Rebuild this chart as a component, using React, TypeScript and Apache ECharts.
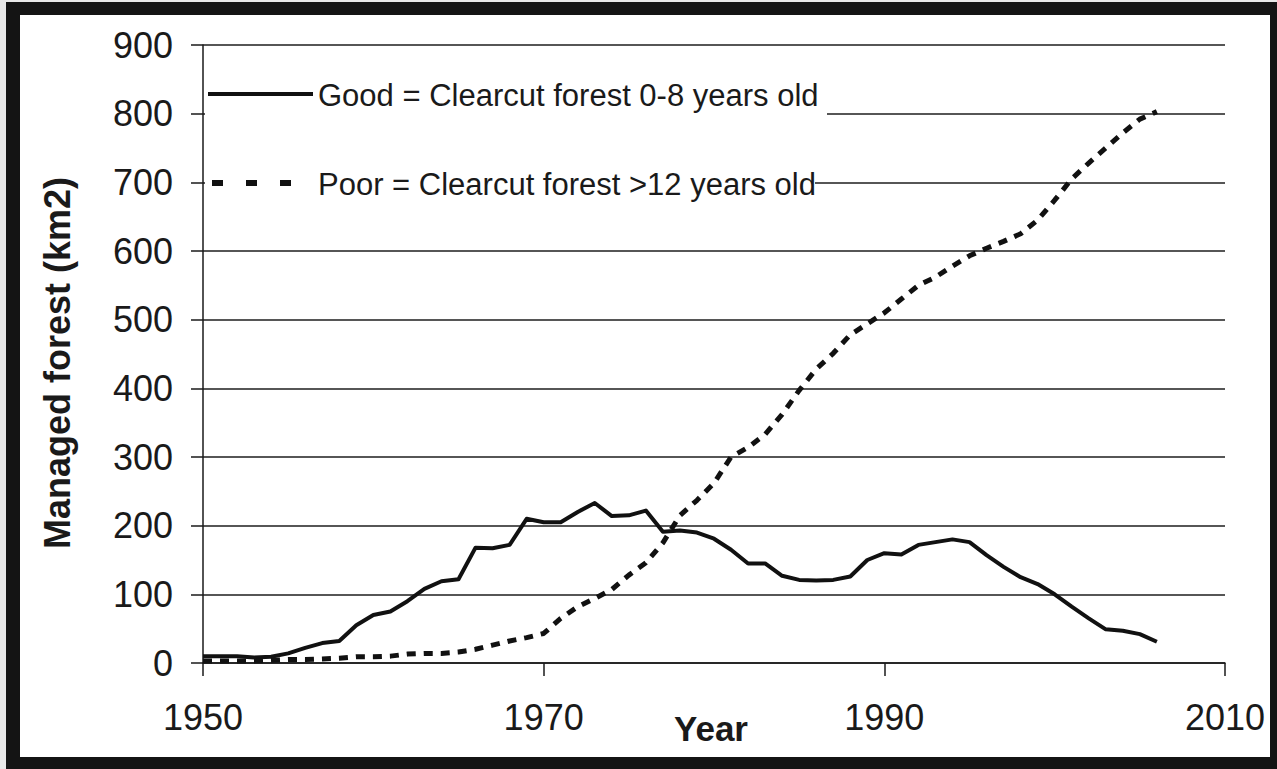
import React, { useEffect, useRef } from "react";
import * as echarts from "echarts";

const goodYears = [
  1950, 1951, 1952, 1953, 1954, 1955, 1956, 1957, 1958, 1959,
  1960, 1961, 1962, 1963, 1964, 1965, 1966, 1967, 1968, 1969,
  1970, 1971, 1972, 1973, 1974, 1975, 1976, 1977, 1978, 1979,
  1980, 1981, 1982, 1983, 1984, 1985, 1986, 1987, 1988, 1989,
  1990, 1991, 1992, 1993, 1994, 1995, 1996, 1997, 1998, 1999,
  2000, 2001, 2002, 2003, 2004, 2005, 2006,
];
const goodValues = [
  10, 10, 10, 8, 9, 14, 22, 29, 32, 55,
  70, 75, 90, 108, 119, 122, 168, 167, 172, 210,
  205, 205, 220, 233, 214, 215, 222, 191, 193, 190,
  181, 165, 145, 145, 127, 121, 120, 121, 126, 150,
  160, 158, 172, 176, 180, 176, 157, 140, 125, 115,
  100, 82, 65, 49, 47, 42, 31,
];
const poorYears = goodYears;
const poorValues = [
  3, 3, 3, 3, 4, 5, 5, 6, 7, 9,
  9, 10, 13, 14, 14, 16, 20, 26, 32, 37,
  43, 65, 82, 94, 107, 128, 146, 175, 215, 237,
  262, 300, 314, 333, 362, 397, 428, 451, 478, 494,
  510, 530, 550, 562, 578, 593, 604, 614, 625, 645,
  674, 705, 728, 750, 772, 792, 803,
];
const xTickLabels = ["1950", "1970", "1990", "2010"];
const baseYear = 1950;
const goodName = "Good = Clearcut forest 0-8 years old";
const poorName = "Poor = Clearcut forest >12 years old";
const xTitle = "Year";
const yTitle = "Managed forest (km2)";

const FONT = "'Liberation Sans', Arial, Helvetica, sans-serif";
const INK = "#1a1a1a";

export default function App() {
  const ref = useRef<HTMLDivElement>(null);

  useEffect(() => {
    if (!ref.current) return;
    const chart = echarts.init(ref.current, undefined, { renderer: "svg" });
    const option: any = {
      animation: false,
      backgroundColor: "transparent",
      grid: {
        left: 203,
        right: 52,
        top: 45,
        bottom: 106,
        containLabel: false,
        outerBoundsMode: "none",
      },
      xAxis: {
        type: "value",
        min: 0,
        max: 60,
        interval: 20,
        axisLine: { show: true, lineStyle: { color: INK, width: 1.5 } },
        axisTick: { show: true, length: 13, lineStyle: { color: INK, width: 1.5 } },
        axisLabel: {
          margin: 36,
          fontFamily: FONT,
          fontSize: 36,
          color: INK,
          formatter: (v: number) => {
            const label = String(v + baseYear);
            return xTickLabels.includes(label) ? label : "";
          },
        },
        splitLine: { show: false },
      },
      yAxis: {
        type: "value",
        min: 0,
        max: 900,
        interval: 100,
        axisLine: { show: true, lineStyle: { color: INK, width: 1.5 } },
        axisTick: { show: true, length: 12, lineStyle: { color: INK, width: 1.5 } },
        axisLabel: {
          margin: 30,
          fontFamily: FONT,
          fontSize: 36,
          color: INK,
        },
        splitLine: { show: true, lineStyle: { color: "#1e1e1e", width: 1.5 } },
      },
      series: [
        {
          name: goodName,
          type: "line",
          data: goodYears.map((y, i) => [y - baseYear, goodValues[i]]),
          symbol: "none",
          lineStyle: { color: "#111", width: 4, join: "round" },
          z: 3,
        },
        {
          name: poorName,
          type: "line",
          data: poorYears.map((y, i) => [y - baseYear, poorValues[i]]),
          symbol: "none",
          lineStyle: { color: "#111", width: 5, type: [9, 8], cap: "butt" },
          z: 3,
        },
      ],
      graphic: [
        {
          type: "rect",
          z: 50,
          shape: { x: 205, y: 70, width: 622, height: 70 },
          style: { fill: "#fff" },
          silent: true,
        },
        {
          type: "rect",
          z: 50,
          shape: { x: 205, y: 140, width: 610, height: 70 },
          style: { fill: "#fff" },
          silent: true,
        },
        {
          type: "line",
          z: 51,
          shape: { x1: 208, y1: 94, x2: 313, y2: 94 },
          style: { stroke: "#111", lineWidth: 4 },
        },
        {
          type: "line",
          z: 51,
          shape: { x1: 212, y1: 183, x2: 293, y2: 183 },
          style: { stroke: "#111", lineWidth: 6, lineDash: [11, 23] },
        },
        {
          type: "text",
          z: 51,
          x: 318,
          y: 95,
          style: {
            text: goodName,
            fontFamily: FONT,
            fontSize: 31,
            fill: INK,
            verticalAlign: "middle",
          },
        },
        {
          type: "text",
          z: 51,
          x: 318,
          y: 184,
          style: {
            text: poorName,
            fontFamily: FONT,
            fontSize: 31,
            fill: INK,
            verticalAlign: "middle",
          },
        },
        {
          type: "text",
          z: 51,
          x: 711,
          y: 728,
          style: {
            text: xTitle,
            fontFamily: FONT,
            fontSize: 35,
            fontWeight: "bold",
            fill: INK,
            align: "center",
            verticalAlign: "middle",
          },
        },
        {
          type: "text",
          z: 51,
          x: 57,
          y: 363,
          rotation: Math.PI / 2,
          style: {
            text: yTitle,
            fontFamily: FONT,
            fontSize: 36,
            fontWeight: "bold",
            fill: INK,
            align: "center",
            verticalAlign: "middle",
          },
        },
      ],
    };
    chart.setOption(option);
    return () => chart.dispose();
  }, []);

  return (
    <div
      style={{
        position: "fixed",
        left: 0,
        top: 0,
        width: 1277,
        height: 769,
        background: "#e8e8e8",
        overflow: "hidden",
      }}
    >
      <div
        style={{
          position: "absolute",
          left: 6,
          top: 2,
          width: 1271,
          height: 767,
          background: "#141414",
        }}
      />
      <div
        style={{
          position: "absolute",
          left: 20,
          top: 15,
          width: 1250,
          height: 742,
          background: "#ffffff",
        }}
      />
      <div
        ref={ref}
        style={{ position: "absolute", left: 0, top: 0, width: 1277, height: 769 }}
      />
    </div>
  );
}
